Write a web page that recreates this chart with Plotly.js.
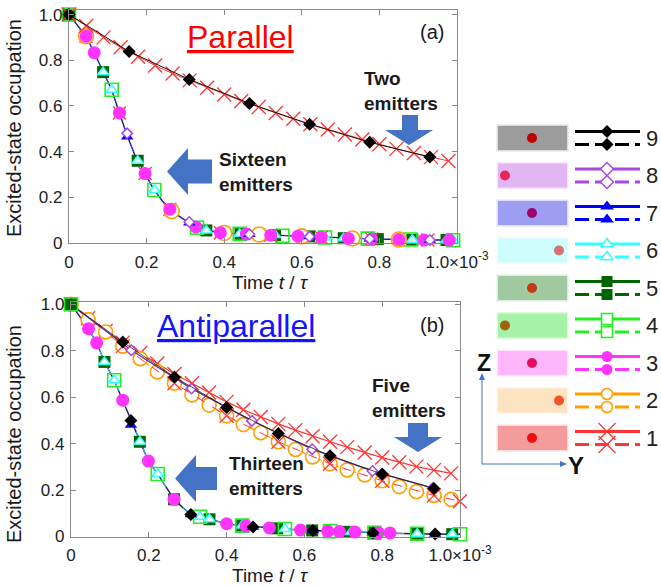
<!DOCTYPE html>
<html><head><meta charset="utf-8">
<script src="https://cdn.plot.ly/plotly-3.0.1.min.js"></script>
<style>html,body{margin:0;padding:0;background:#fff}#chart{width:661px;height:586px}</style>
</head><body><div id="chart"></div>
<script>
// ================= DATA =================
const tickVals = [0, 0.2, 0.4, 0.6, 0.8, 1.0];
const xTickText = ['0', '0.2', '0.4', '0.6', '0.8', '1.0×10<sup>-3</sup>'];
const yTickText = ['0', '0.2', '0.4', '0.6', '0.8', '1.0'];

// ---- Panel (a) Parallel: two emitters (slow) ----
const a1T = [0,0.044,0.089,0.133,0.178,0.222,0.267,0.311,0.356,0.40,0.444,0.489,0.533,0.578,0.622,0.667,0.711,0.756,0.80,0.844,0.889,0.933,0.978];
const a1V = [1.0,0.95,0.90,0.857,0.815,0.777,0.742,0.712,0.68,0.65,0.622,0.595,0.569,0.544,0.52,0.497,0.475,0.453,0.432,0.412,0.394,0.376,0.359];
const a9T = [0,0.155,0.31,0.465,0.62,0.775,0.93];
const a9V = [1.0,0.838,0.716,0.611,0.52,0.441,0.376];

// ---- Panel (a) Parallel: sixteen emitters (fast) ----
const aFastT = [0,0.022,0.044,0.065,0.088,0.11,0.13,0.15,0.17,0.196,0.217,0.24,0.265,0.29,0.31,0.33,0.355,0.378,0.40,0.44,0.5,0.55,0.6,0.66,0.72,0.78,0.85,0.92,1.0];
const aFastV = [1.0,0.955,0.905,0.833,0.748,0.671,0.569,0.47,0.384,0.304,0.239,0.185,0.14,0.11,0.089,0.067,0.055,0.048,0.044,0.04,0.036,0.032,0.029,0.024,0.02,0.018,0.015,0.013,0.012];
const a5T = [0,0.088,0.177,0.265,0.354,0.442,0.531,0.619,0.708,0.796,0.885,0.973];
const a5V = [1.0,0.748,0.36,0.14,0.055,0.04,0.035,0.029,0.021,0.017,0.014,0.013];
const a4T = [0,0.11,0.22,0.33,0.44,0.55,0.66,0.77,0.88,0.99];
const a4V = [1.0,0.671,0.232,0.067,0.04,0.032,0.024,0.019,0.015,0.012];
const a6T = [0.088,0.11,0.177,0.22,0.265,0.33,0.354,0.44,0.531,0.66,0.708,0.885,0.973,0.99];
const a6V = [0.748,0.671,0.36,0.232,0.14,0.067,0.055,0.04,0.035,0.024,0.021,0.014,0.013,0.012];
const a3T = [0.044,0.065,0.13,0.196,0.26,0.327,0.39,0.457,0.52,0.59,0.65,0.72,0.78,0.85,0.915,0.98];
const a3V = [0.905,0.833,0.569,0.304,0.148,0.07,0.045,0.039,0.034,0.03,0.025,0.02,0.018,0.015,0.013,0.012];
const a2T = [0.044,0.265,0.40,0.49,0.60,0.73,0.85];
const a2V = [0.905,0.14,0.044,0.037,0.029,0.02,0.015];
const a1dT = [0.044,0.13,0.196,0.26,0.39,0.52,0.65,0.78,0.925];
const a1dV = [0.905,0.569,0.304,0.148,0.045,0.034,0.025,0.018,0.013];
const a7T = [0.15,0.31,0.465,0.62,0.775,0.93];
const a7V = [0.465,0.089,0.038,0.028,0.018,0.013];
const a8T = [0.15,0.31,0.465,0.62,0.775,0.93];
const a8V = [0.48,0.092,0.038,0.028,0.018,0.013];

// ---- Panel (b) Antiparallel: five emitters (slow) ----
const b1T = [0,0.044,0.089,0.133,0.178,0.222,0.266,0.311,0.355,0.40,0.443,0.488,0.533,0.577,0.621,0.666,0.71,0.755,0.80,0.844,0.888,0.933,0.977];
const b1V = [1.0,0.94,0.885,0.835,0.79,0.745,0.70,0.66,0.62,0.58,0.546,0.515,0.485,0.458,0.432,0.408,0.385,0.362,0.34,0.32,0.301,0.286,0.272];
const b2T = [0,0.044,0.089,0.133,0.178,0.222,0.266,0.311,0.355,0.40,0.443,0.488,0.533,0.577,0.621,0.666,0.71,0.755,0.80,0.844,0.888,0.933,0.977];
const b2V = [1.0,0.934,0.881,0.82,0.766,0.709,0.66,0.61,0.566,0.52,0.482,0.447,0.408,0.375,0.343,0.313,0.287,0.265,0.24,0.215,0.193,0.177,0.16];
const b1dT = [0.133,0.266,0.40,0.533,0.666,0.80,0.933,1.0];
const b1dV = [0.82,0.66,0.52,0.408,0.313,0.24,0.177,0.152];
const b9T = [0,0.133,0.266,0.40,0.533,0.666,0.80,0.933];
const b9V = [1.0,0.838,0.687,0.556,0.444,0.348,0.269,0.207];
const b8T = [0,0.155,0.31,0.465,0.62,0.775,0.93];
const b8V = [1.0,0.802,0.637,0.498,0.376,0.282,0.209];

// ---- Panel (b) Antiparallel: thirteen emitters (fast) ----
const bFastT = [0,0.022,0.045,0.066,0.086,0.111,0.133,0.154,0.177,0.199,0.223,0.245,0.265,0.287,0.308,0.332,0.356,0.378,0.40,0.44,0.5,0.55,0.6,0.66,0.72,0.78,0.85,0.92,1.0];
const bFastV = [1.0,0.95,0.895,0.834,0.752,0.673,0.587,0.498,0.408,0.325,0.269,0.21,0.16,0.125,0.095,0.085,0.074,0.062,0.055,0.047,0.038,0.032,0.027,0.023,0.019,0.016,0.013,0.011,0.01];
const b3T = [0.045,0.066,0.133,0.199,0.265,0.40,0.45,0.51,0.59,0.66,0.69,0.73,0.79,0.82];
const b3V = [0.895,0.834,0.587,0.325,0.16,0.055,0.045,0.037,0.028,0.023,0.021,0.019,0.016,0.015];
const b5T = [0,0.086,0.177,0.265,0.356,0.44,0.53,0.62,0.71,0.78,0.89,0.98];
const b5V = [1.0,0.752,0.408,0.16,0.074,0.047,0.035,0.026,0.02,0.016,0.012,0.01];
const b4T = [0,0.111,0.223,0.332,0.44,0.55,0.666,0.78,0.89,1.0];
const b4V = [1.0,0.673,0.269,0.085,0.047,0.032,0.023,0.016,0.012,0.01];
const b6T = [0.086,0.111,0.177,0.223,0.332,0.356,0.44,0.55,0.666,0.72,0.89,0.98];
const b6V = [0.752,0.673,0.408,0.269,0.085,0.074,0.047,0.032,0.023,0.019,0.012,0.01];
const b7T = [0.154,0.308,0.468,0.622,0.776,0.936];
const b7V = [0.48,0.095,0.041,0.026,0.016,0.011];
const b9dT = [0.154,0.308,0.468,0.622,0.776,0.936];
const b9dV = [0.50,0.095,0.041,0.026,0.016,0.011];

// ---- Legend (configuration index 9 .. 1) ----
const legendIds = [9, 8, 7, 6, 5, 4, 3, 2, 1];
const boxColors = {9:'#9c9c9c', 8:'#e2b6f0', 7:'#9d9df4', 6:'#cdfdfd', 5:'#a0c9a0', 4:'#a6f2a6', 3:'#ffb7fb', 2:'#fde3bf', 1:'#f49c9c'};
const dotColors = {9:'#c00000', 8:'#e8245c', 7:'#a0006a', 6:'#d27272', 5:'#c03c12', 4:'#a0620c', 3:'#e2125c', 2:'#f0542a', 1:'#ee1010'};
const dotSide = {9:'mid', 8:'left', 7:'mid', 6:'right', 5:'mid', 4:'left', 3:'mid', 2:'right', 1:'mid'};

// ================= STYLES =================
const FONT = 'Liberation Sans, Arial, sans-serif';
const S = {
  1:{c:'#ff3535', sym:'x-thin-open', size:14, lw:1.3, kind:'line', leg:17},
  2:{c:'#ffa000', sym:'circle', size:14, lw:1.6, kind:'open', leg:11},
  3:{c:'#ff33ff', sym:'circle', size:13, kind:'fill', leg:11},
  4:{c:'#22ee22', sym:'square', size:13, lw:1.6, kind:'hollow', leg:11},
  5:{c:'#006400', sym:'square', size:12, kind:'fill', leg:11},
  6:{c:'#33ffff', sym:'triangle-up', size:10, lw:1.5, kind:'open', leg:11},
  7:{c:'#0000ff', sym:'triangle-up', size:11, kind:'fill', leg:12},
  8:{c:'#a848e0', sym:'diamond', size:8, lw:1.5, kind:'open', leg:10},
  9:{c:'#000000', sym:'diamond', size:10, kind:'fill', leg:10}
};
function mk(id, size) {
  const s = S[id], sz = size || s.size;
  if (s.kind === 'line') return {symbol:s.sym, size:sz, color:s.c, line:{color:s.c, width:s.lw}};
  if (s.kind === 'open') return {symbol:s.sym, size:sz, color:'#ffffff', line:{color:s.c, width:s.lw}};
  if (s.kind === 'hollow') return {symbol:s.sym + '-open', size:sz, color:s.c, line:{color:s.c, width:s.lw}};
  return {symbol:s.sym, size:sz, color:s.c, line:{width:0}};
}
function pts(x, y, id, ax, opts) {
  opts = opts || {};
  const t = {type:'scatter', x:x, y:y, xaxis:ax[0], yaxis:ax[1], mode:opts.line ? 'lines+markers' : 'markers',
    marker:mk(id, opts.size), cliponaxis:false, hoverinfo:'skip'};
  if (opts.line) t.line = opts.line;
  return t;
}
function curve(x, y, ax, line) {
  return {type:'scatter', x:x, y:y, xaxis:ax[0], yaxis:ax[1], mode:'lines', line:line, hoverinfo:'skip'};
}
const A = ['x', 'y'], B = ['x2', 'y2'];

const traces = [];
// ---- Panel (a) ----
traces.push(curve(aFastT, aFastV, A, {color:'#1c1c66', width:1.4}));
traces.push(curve(aFastT, aFastV, A, {color:'#3a3aff', width:1, dash:'dash'}));
traces.push(pts(a5T, a5V, 5, A));
traces.push(pts(a4T, a4V, 4, A));
traces.push(pts(a6T, a6V, 6, A));
traces.push(pts(a1dT, a1dV, 1, A, {size:13}));
traces.push(pts(a2T, a2V, 2, A, {size:15}));
traces.push(pts(a3T, a3V, 3, A));
traces.push(pts(a7T, a7V, 7, A));
traces.push(pts(a8T, a8V, 8, A));
traces.push(pts(a1T, a1V, 1, A, {line:{color:'#ff3535', width:1}}));
traces.push(pts(a9T, a9V, 9, A, {line:{color:'#111111', width:1}}));

// ---- Panel (b) ----
traces.push(curve(bFastT, bFastV, B, {color:'#1c1c66', width:1.4}));
traces.push(curve(bFastT, bFastV, B, {color:'#33ccff', width:1, dash:'dash'}));
traces.push(pts(b1T, b1V, 1, B, {line:{color:'#ff3535', width:1.2}}));
traces.push(pts(b2T, b2V, 2, B, {line:{color:'#ff9900', width:1.2, dash:'dash'}}));
traces.push(pts(b1dT, b1dV, 1, B, {line:{color:'#ff3535', width:1, dash:'dash'}}));
traces.push(pts(b8T, b8V, 8, B, {line:{color:'#5b2d8e', width:1.3}}));
traces.push(pts(b9T, b9V, 9, B, {line:{color:'#222222', width:0.8}}));
traces.push(pts(b5T, b5V, 5, B));
traces.push(pts(b4T, b4V, 4, B));
traces.push(pts(b6T, b6V, 6, B));
traces.push(pts(b3T, b3V, 3, B));
traces.push(pts(b7T, b7V, 7, B));
traces.push(pts(b9dT, b9dV, 9, B));

// ---- Legend (pixel overlay axes x3/y3) ----
const L = {row0:138, step:37.5, boxX0:498, boxX1:567, boxH:24, lineX0:575, lineX1:640, markX:607, off:6.5, numX:652};
const dotX = {left:505, mid:532, right:559};
const shapes = [];
const annotations = [];
legendIds.forEach((id, i) => {
  const cy = L.row0 + L.step * i;
  shapes.push({type:'rect', xref:'x3', yref:'y3', x0:L.boxX0 - 1.5, x1:L.boxX1 + 1.5, y0:cy - L.boxH/2 - 1.5, y1:cy + L.boxH/2 + 1.5,
    fillcolor:boxColors[id], opacity:0.35, line:{width:0}, layer:'below'});
  shapes.push({type:'rect', xref:'x3', yref:'y3', x0:L.boxX0, x1:L.boxX1, y0:cy - L.boxH/2, y1:cy + L.boxH/2,
    fillcolor:boxColors[id], line:{width:0}, layer:'below'});
  const lc = S[id].c;
  traces.push({type:'scatter', x:[L.lineX0, L.lineX1], y:[cy - L.off, cy - L.off], xaxis:'x3', yaxis:'y3', mode:'lines',
    line:{color:lc, width:3}, hoverinfo:'skip'});
  traces.push({type:'scatter', x:[L.lineX0, L.lineX1], y:[cy + L.off, cy + L.off], xaxis:'x3', yaxis:'y3', mode:'lines',
    line:{color:lc, width:3, dash:'14px,6px'}, hoverinfo:'skip'});
  const m = mk(id, S[id].leg);
  if (S[id].kind === 'hollow') { m.symbol = 'square'; m.color = '#ffffff'; }
  traces.push({type:'scatter', x:[L.markX, L.markX], y:[cy - L.off, cy + L.off], xaxis:'x3', yaxis:'y3', mode:'markers',
    marker:m, hoverinfo:'skip', cliponaxis:false});
  traces.push({type:'scatter', x:[dotX[dotSide[id]]], y:[cy], xaxis:'x3', yaxis:'y3', mode:'markers',
    marker:{symbol:'circle', size:10, color:dotColors[id], line:{width:0}}, hoverinfo:'skip'});
  annotations.push({xref:'x3', yref:'y3', x:L.numX, y:cy, text:String(id), showarrow:false,
    font:{family:FONT, size:22, color:'#222'}, xanchor:'center', yanchor:'middle'});
});

// ---- Block arrows and axis arrows (pixel overlay) ----
function arrowPath(p, close) { return 'M' + p.map(q => q[0] + ',' + q[1]).join(' L') + (close ? ' Z' : ''); }
const ARROW = '#4472c4';
const arrows = [
  [[402,115],[418,115],[418,130],[433,130],[409,145],[385,130],[402,130]],
  [[167,171.5],[188,148],[188,159.5],[212,159.5],[212,183.5],[188,183.5],[188,195]],
  [[408,423],[428,423],[428,437],[442,437],[418,452],[394,437],[408,437]],
  [[175,478.5],[196,455],[196,467],[217,467],[217,490],[196,490],[196,502]]
];
arrows.forEach(p => shapes.push({type:'path', xref:'x3', yref:'y3', path:arrowPath(p, true), fillcolor:ARROW, line:{width:0}}));
// Z / Y coordinate axes
shapes.push({type:'path', xref:'x3', yref:'y3', path:arrowPath([[482,377],[482,464],[563,464]], false), line:{color:ARROW, width:1}});
shapes.push({type:'path', xref:'x3', yref:'y3', path:arrowPath([[482,373],[479,380],[485,380]], true), fillcolor:ARROW, line:{width:0}});
shapes.push({type:'path', xref:'x3', yref:'y3', path:arrowPath([[567,464],[560,461],[560,467]], true), fillcolor:ARROW, line:{width:0}});

// ---- Text ----
function txt(x, y, text, size, extra) {
  return Object.assign({xref:'x3', yref:'y3', x:x, y:y, text:text, showarrow:false,
    font:{family:FONT, size:size, color:'#1a1a1a'}, xanchor:'center', yanchor:'middle'}, extra || {});
}
annotations.push(txt(240, 37, '<u>Parallel</u>', 32, {font:{family:FONT, size:32, color:'#ff0000'}}));
annotations.push(txt(236, 326, '<u>Antiparallel</u>', 32, {font:{family:FONT, size:32, color:'#1414ff'}}));
annotations.push(txt(432, 32, '(a)', 20));
annotations.push(txt(432, 325, '(b)', 20));
annotations.push(txt(362, 91, '<b>Two<br>emitters</b>', 19, {xanchor:'left', align:'left'}));
annotations.push(txt(217, 172, '<b>Sixteen<br>emitters</b>', 19, {xanchor:'left', align:'left'}));
annotations.push(txt(370, 398, '<b>Five<br>emitters</b>', 19, {xanchor:'left', align:'left'}));
annotations.push(txt(227, 476, '<b>Thirteen<br>emitters</b>', 19, {xanchor:'left', align:'left'}));
annotations.push(txt(270, 282, 'Time <i>t</i> / <i>τ</i>', 19));
annotations.push(txt(270, 575, 'Time <i>t</i> / <i>τ</i>', 19));
annotations.push(txt(14, 128, 'Excited-state occupation', 20, {textangle:-90}));
annotations.push(txt(14, 434, 'Excited-state occupation', 20, {textangle:-90}));
annotations.push(txt(484, 363, '<b>Z</b>', 23, {font:{family:FONT, size:23, color:'#111'}}));
annotations.push(txt(576, 465, '<b>Y</b>', 24, {font:{family:FONT, size:24, color:'#111'}}));

// ================= LAYOUT =================
const axisCommon = {showgrid:false, zeroline:false, showline:true, linecolor:'#8a8a8a', linewidth:1.2, mirror:'ticks',
  ticks:'inside', ticklen:5, tickcolor:'#8a8a8a', tickfont:{family:FONT, size:17, color:'#222'}, tickvals:tickVals, fixedrange:true};
const W = 661, H = 586;
const layout = {
  width:W, height:H, margin:{l:0, r:0, t:0, b:0}, paper_bgcolor:'#ffffff', plot_bgcolor:'rgba(0,0,0,0)', showlegend:false,
  xaxis: Object.assign({}, axisCommon, {domain:[69/W, 457/W], range:[0, 1], ticktext:xTickText, anchor:'y', ticklabelstandoff:3}),
  yaxis: Object.assign({}, axisCommon, {domain:[1 - 243/H, 1 - 10/H], range:[0, 1.02], ticktext:yTickText, anchor:'x', ticklabelstandoff:2}),
  xaxis2: Object.assign({}, axisCommon, {domain:[71/W, 460/W], range:[0, 1], ticktext:xTickText, anchor:'y2', ticklabelstandoff:3}),
  yaxis2: Object.assign({}, axisCommon, {domain:[1 - 536.5/H, 1 - 302/H], range:[0, 1.01], ticktext:yTickText, anchor:'x2', ticklabelstandoff:2}),
  xaxis3: {domain:[0, 1], range:[0, W], visible:false, anchor:'y3', fixedrange:true},
  yaxis3: {domain:[0, 1], range:[H, 0], visible:false, anchor:'x3', fixedrange:true},
  shapes:shapes, annotations:annotations
};
Plotly.newPlot('chart', traces, layout, {staticPlot:true, displayModeBar:false});
</script></body></html>
